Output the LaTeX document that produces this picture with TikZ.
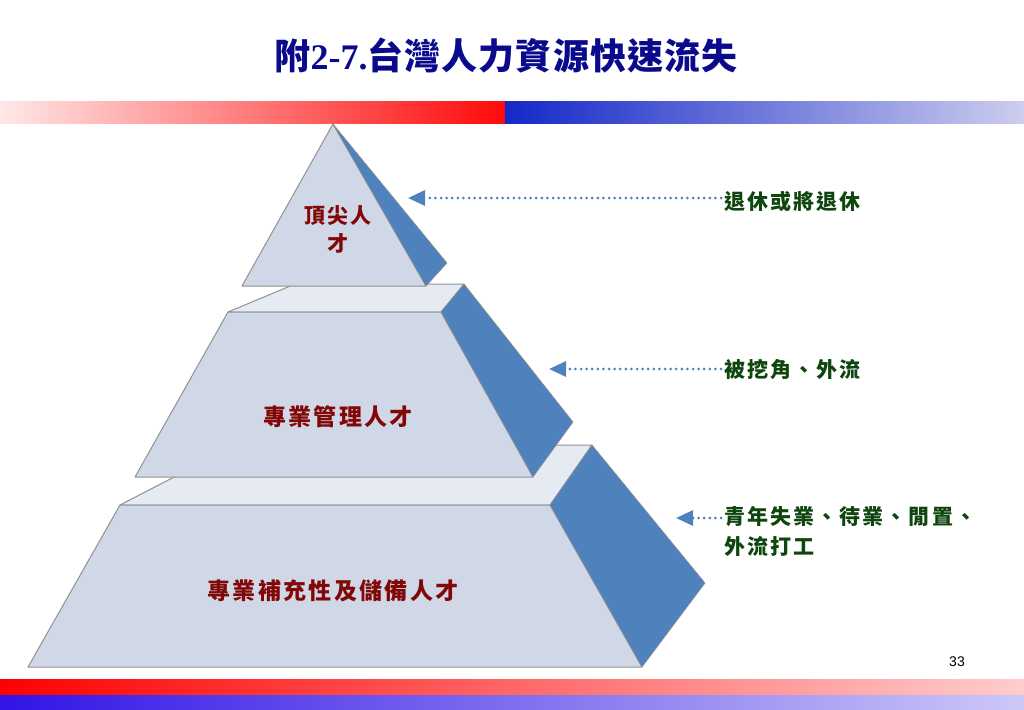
\documentclass[tikz,border=0pt]{standalone}
\usepackage{fontspec}
\usetikzlibrary{arrows.meta}
\newfontfamily\cjk{Noto Sans CJK TC}
\newfontfamily\tnr{Liberation Serif}
\newfontfamily\arialf{Liberation Sans}
\definecolor{titleblue}{RGB}{10,10,140}
\definecolor{facecol}{RGB}{208,216,232}
\definecolor{platcol}{RGB}{230,234,243}
\definecolor{sidecol}{RGB}{79,129,189}
\definecolor{edgecol}{RGB}{145,145,145}
\definecolor{redtxt}{RGB}{130,8,8}
\definecolor{greentxt}{RGB}{15,70,15}
\tikzset{
  face/.style={fill=facecol,draw=edgecol,line width=1pt,line join=round},
  plat/.style={fill=platcol,draw=edgecol,line width=1pt,line join=round},
  side/.style={fill=sidecol,draw=edgecol,line width=0.6pt,line join=round},
  tierlabel/.style={inner sep=0pt,text=redtxt,font={\cjk\bfseries\addfontfeature{LetterSpace=10}\fontsize{23}{28}\selectfont}},
  sidelabel/.style={inner sep=0pt,anchor=west,text=greentxt,font={\cjk\bfseries\addfontfeature{LetterSpace=10}\fontsize{21}{24}\selectfont}},
  flow/.style={draw=sidecol,line width=3pt,line cap=round,dash pattern=on 0pt off 5.6pt,
    -{Triangle[length=17pt,width=15pt,fill=sidecol]}}
}
\begin{document}
\begin{tikzpicture}[x=1pt,y=-1pt]
\useasboundingbox (0,0) rectangle (1024,709);
% top gradient bar
\fill[left color={rgb,255:red,255;green,232;blue,232},right color={rgb,255:red,255;green,10;blue,10}] (0,101) rectangle (505,123);
\fill[left color={rgb,255:red,20;green,40;blue,200},right color={rgb,255:red,205;green,205;blue,238}] (505,101) rectangle (1024,123);
% bottom bars
\fill[left color={rgb,255:red,255;green,0;blue,0},right color={rgb,255:red,255;green,205;blue,205}] (0,679) rectangle (1024,695);
\fill[left color={rgb,255:red,50;green,20;blue,230},right color={rgb,255:red,205;green,200;blue,248}] (0,695) rectangle (1024,709);
% title
\node[text=titleblue,inner sep=0pt] (title) at (506,55)
  {\fontsize{36}{42}\selectfont{\cjk\bfseries 附}{\tnr\bfseries 2-7.}{\cjk\bfseries\addfontfeature{LetterSpace=3} 台灣人力資源快速流失}};
% bottom tier
\draw[plat] (120,505) -- (236,445) -- (592,445) -- (550,505) -- cycle;
\draw[face] (120,505) -- (550,505) -- (642,667) -- (28,667) -- cycle;
\draw[side] (550,505) -- (592,445) -- (705,583) -- (642,667) -- cycle;
% middle tier
\draw[plat] (228,312) -- (295,284) -- (464,284) -- (441,312) -- cycle;
\draw[face] (228,312) -- (441,312) -- (533,477) -- (135,477) -- cycle;
\draw[side] (441,312) -- (464,284) -- (573,422) -- (533,477) -- cycle;
% top tier
\draw[face] (242,286) -- (333,124) -- (426,286) -- cycle;
\draw[side] (333,124) -- (447,263) -- (426,286) -- cycle;
% tier labels
\node[tierlabel,font={\cjk\bfseries\addfontfeature{LetterSpace=8}\fontsize{21}{28}\selectfont},align=center] (top) at (338,229) {頂尖人\\才};
\node[tierlabel] (mid) at (338,417) {專業管理人才};
\node[tierlabel] (bot) at (333,591) {專業補充性及儲備人才};
% side labels
\node[sidelabel] (l1) at (724,202) {退休或將退休};
\node[sidelabel] (l2) at (724,369) {被挖角、外流};
\node[sidelabel] (l3) at (724,517) {青年失業、待業、閒置、};
\node[sidelabel] (l3b) at (724,546) {外流打工};
% arrow tips
\coordinate (t1) at (408,198);
\coordinate (t2) at (549,369);
\coordinate (t3) at (676,518);
\draw[flow] (l1.west |- t1) ++(-3,0) -- (t1);
\draw[flow] (l2.west) ++(-3,0) -- (t2);
\draw[flow] (l3.west |- t3) ++(-3,0) -- (t3);
% page number
\node[inner sep=0pt,font={\arialf\fontsize{14}{16}\selectfont}] (pg) at (957,662) {33};
\end{tikzpicture}
\end{document}
